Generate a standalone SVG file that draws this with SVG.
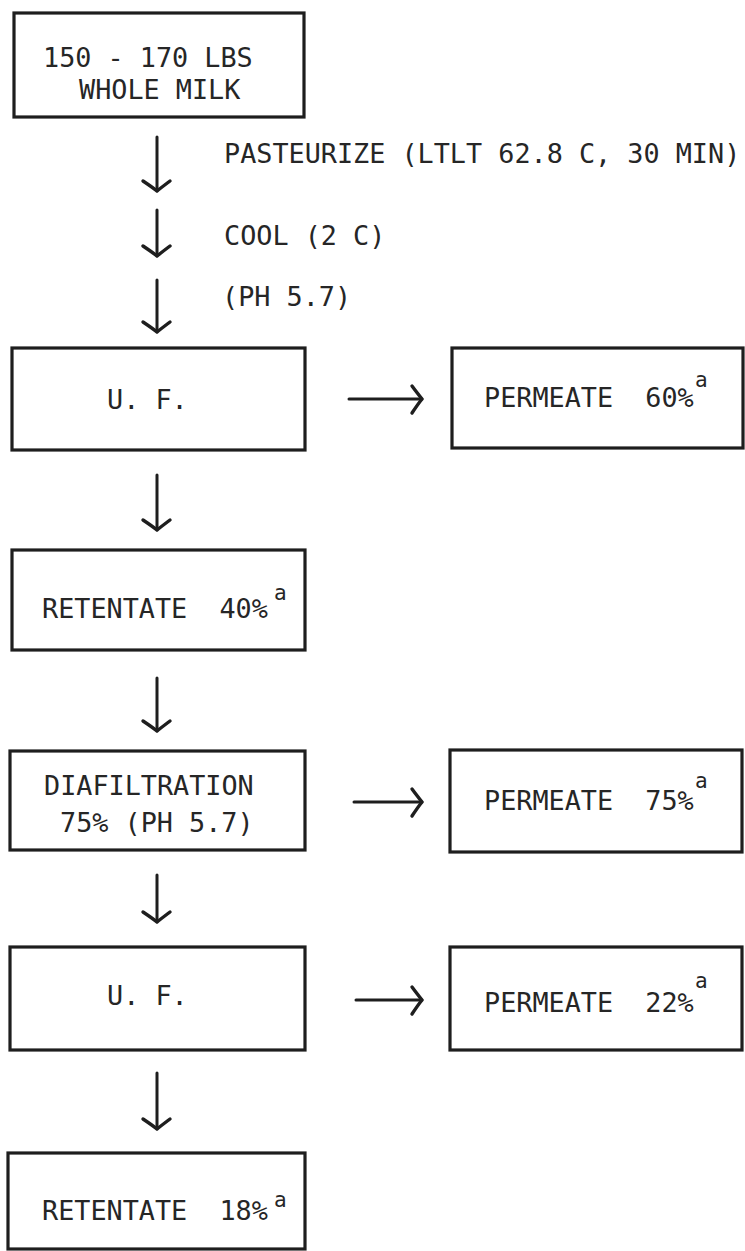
<svg xmlns="http://www.w3.org/2000/svg" width="745" height="1251" viewBox="0 0 745 1251" xml:space="preserve">
  <style>
    .box { fill: #ffffff; stroke: #1e1e1e; stroke-width: 3.2; }
    .t { font-family: "DejaVu Sans Mono", "Liberation Mono", monospace; font-size: 26.8px; fill: #262626; white-space: pre; }
    .sup { font-size: 21px; }
    .conn { stroke: #1e1e1e; stroke-width: 3; fill: none; stroke-linecap: round; }
  </style>
  <defs>
    <marker id="arr" markerUnits="userSpaceOnUse" markerWidth="40" markerHeight="40" viewBox="-20 -20 40 40" refX="0" refY="0" orient="auto">
      <path d="M -10,-13 Q -4,-5 0,0 Q -4,5 -10,14" fill="none" stroke="#1e1e1e" stroke-width="3.4" stroke-linecap="round" stroke-linejoin="round"/>
    </marker>
  </defs>
  <rect width="745" height="1251" fill="#ffffff"/>

  <g id="connectors">
    <line class="conn" x1="157" y1="137" x2="157" y2="191" marker-end="url(#arr)"/>
    <line class="conn" x1="157" y1="210" x2="157" y2="256" marker-end="url(#arr)"/>
    <line class="conn" x1="157" y1="280" x2="157" y2="332" marker-end="url(#arr)"/>
    <line class="conn" x1="157" y1="475" x2="157" y2="530" marker-end="url(#arr)"/>
    <line class="conn" x1="157" y1="678" x2="157" y2="731" marker-end="url(#arr)"/>
    <line class="conn" x1="157" y1="875" x2="157" y2="922" marker-end="url(#arr)"/>
    <line class="conn" x1="157" y1="1073" x2="157" y2="1129" marker-end="url(#arr)"/>
    <line class="conn" x1="349" y1="399" x2="422" y2="399" marker-end="url(#arr)"/>
    <line class="conn" x1="354" y1="802" x2="422" y2="802" marker-end="url(#arr)"/>
    <line class="conn" x1="356" y1="1000" x2="422" y2="1000" marker-end="url(#arr)"/>
  </g>

  <g id="step-labels">
    <text class="t" x="224" y="163">PASTEURIZE (LTLT 62.8 C, 30 MIN)</text>
    <text class="t" x="224" y="245">COOL (2 C)</text>
    <text class="t" x="222" y="306">(PH 5.7)</text>
  </g>

  <g id="node-milk">
    <rect class="box" x="14" y="13" width="290" height="104"/>
    <text class="t" x="43" y="67">150 - 170 LBS</text>
    <text class="t" x="79" y="99">WHOLE MILK</text>
  </g>

  <g id="node-uf1">
    <rect class="box" x="12" y="348" width="293" height="102"/>
    <text class="t" x="107" y="409">U. F.</text>
  </g>

  <g id="node-permeate60">
    <rect class="box" x="452" y="348" width="291" height="100"/>
    <text class="t" x="484" y="407">PERMEATE  60%<tspan class="sup" x="695" dy="-20">a</tspan></text>
  </g>

  <g id="node-retentate40">
    <rect class="box" x="12" y="550" width="293" height="100"/>
    <text class="t" x="42" y="618">RETENTATE  40%<tspan class="sup" x="274" dy="-18">a</tspan></text>
  </g>

  <g id="node-diafiltration">
    <rect class="box" x="10" y="751" width="295" height="99"/>
    <text class="t" x="44" y="795">DIAFILTRATION</text>
    <text class="t" x="60" y="832">75% (PH 5.7)</text>
  </g>

  <g id="node-permeate75">
    <rect class="box" x="450" y="750" width="292" height="102"/>
    <text class="t" x="484" y="810">PERMEATE  75%<tspan class="sup" x="695" dy="-22">a</tspan></text>
  </g>

  <g id="node-uf2">
    <rect class="box" x="10" y="947" width="295" height="103"/>
    <text class="t" x="107" y="1005">U. F.</text>
  </g>

  <g id="node-permeate22">
    <rect class="box" x="450" y="947" width="292" height="103"/>
    <text class="t" x="484" y="1012">PERMEATE  22%<tspan class="sup" x="695" dy="-24">a</tspan></text>
  </g>

  <g id="node-retentate18">
    <rect class="box" x="8" y="1153" width="297" height="96"/>
    <text class="t" x="42" y="1220">RETENTATE  18%<tspan class="sup" x="274" dy="-13">a</tspan></text>
  </g>
</svg>
